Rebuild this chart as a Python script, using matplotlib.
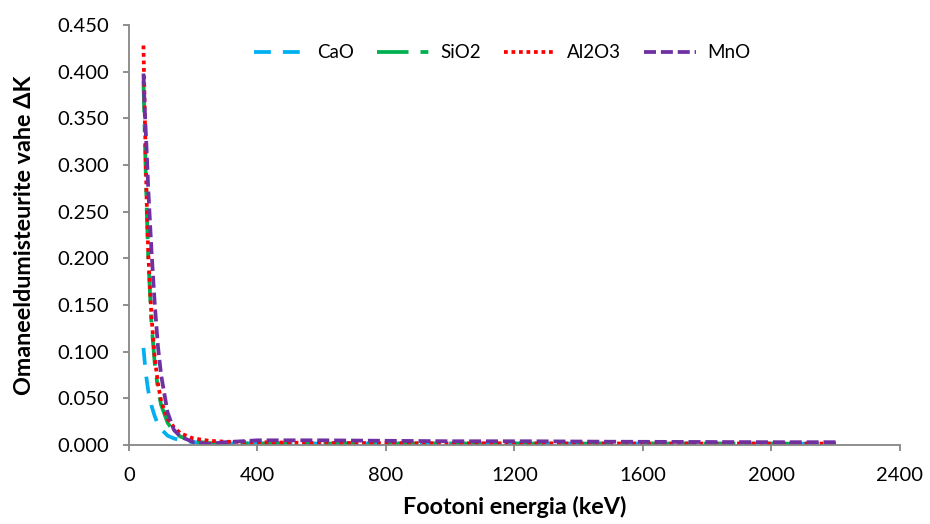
import matplotlib
matplotlib.use("Agg")
import matplotlib.pyplot as plt

plt.rcParams["font.family"] = ["Lato", "DejaVu Sans"]

# photon energies (keV) and the absorption-edge difference per oxide
energy_kev = [45, 50, 55, 60, 70, 80, 90, 100, 120, 140, 160, 200, 250, 300,
              400, 500, 600, 800, 1000, 1250, 1500, 2000, 2200]
cao = [0.104, 0.085, 0.070, 0.058, 0.042, 0.031, 0.022, 0.017, 0.010, 0.007, 0.005,
       0.003, 0.002, 0.0018, 0.0016, 0.0016, 0.0016, 0.0015, 0.0015, 0.0015, 0.0015,
       0.0014, 0.0014]
sio2 = [0.390, 0.320, 0.255, 0.200, 0.130, 0.088, 0.060, 0.043, 0.024, 0.014, 0.009,
        0.004, 0.002, 0.002, 0.0016, 0.0016, 0.0016, 0.0015, 0.0015, 0.0015, 0.0015,
        0.0014, 0.0014]
al2o3 = [0.428, 0.340, 0.262, 0.205, 0.137, 0.094, 0.066, 0.047, 0.028, 0.019, 0.0125,
         0.007, 0.0045, 0.0035, 0.003, 0.0025, 0.0022, 0.002, 0.0018, 0.0017, 0.0016,
         0.0015, 0.0015]
mno = [0.398, 0.352, 0.315, 0.274, 0.208, 0.152, 0.106, 0.075, 0.035, 0.016, 0.009,
       0.003, 0.001, 0.003, 0.005, 0.005, 0.005, 0.0045, 0.004, 0.004, 0.0035,
       0.003, 0.003]

x_ticks = [0, 400, 800, 1200, 1600, 2000, 2400]
y_ticks = [0.0, 0.05, 0.10, 0.15, 0.20, 0.25, 0.30, 0.35, 0.40, 0.45]

fig = plt.figure(figsize=(9.3, 5.24), dpi=100)
ax = fig.add_axes([0.1387, 0.1508, 0.829, 0.8015])

lw = 2.7
ax.plot(energy_kev, cao, color="#00B0F0", lw=lw, dashes=(4.5, 3.2), dash_capstyle="butt", label="CaO")
ax.plot(energy_kev, sio2, color="#00B050", lw=lw, dashes=(8.4, 3.2, 2.1, 3.2), dash_capstyle="butt", label="SiO2")
ax.plot(energy_kev, al2o3, color="#FF0000", lw=lw, dashes=(1, 1), dash_capstyle="butt", label="Al2O3")
ax.plot(energy_kev, mno, color="#7030A0", lw=lw, dashes=(3.2, 1.3), dash_capstyle="butt", label="MnO")

ax.set_xlim(0, 2400)
ax.set_ylim(0, 0.45)
ax.set_xticks(x_ticks)
ax.set_yticks(y_ticks)
ax.set_yticklabels([f"{v:.3f}" for v in y_ticks])

for side in ("top", "right"):
    ax.spines[side].set_visible(False)
for side in ("left", "bottom"):
    ax.spines[side].set_color("#868686")
    ax.spines[side].set_linewidth(1.3)
ax.tick_params(axis="both", direction="out", length=4.5, width=1.3, color="#868686",
               labelsize=14.5, labelcolor="#000000")
ax.tick_params(axis="x", pad=11)
ax.tick_params(axis="y", pad=10)

ax.set_xlabel("Footoni energia (keV)", fontsize=16.8, fontweight="bold")
ax.set_ylabel("Omaneeldumisteurite vahe ΔK", fontsize=16.8, fontweight="bold")
ax.xaxis.set_label_coords(0.5, -0.122)
ax.yaxis.set_label_coords(-0.122, 0.5)

ax.legend(loc="center", bbox_to_anchor=(0.484, 0.934), ncol=4, frameon=False,
          fontsize=13.5, handlelength=2.8, handletextpad=0.6, columnspacing=1.2)

fig.savefig("out.png", dpi=100)
